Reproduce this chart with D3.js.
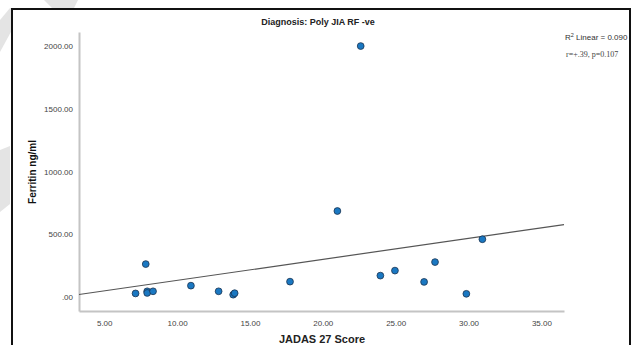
<!DOCTYPE html>
<html>
<head>
<meta charset="utf-8">
<script src="https://cdn.jsdelivr.net/npm/d3@7"></script>
<style>
  body { margin: 0; background: #fff; }
  svg { display: block; font-family: "Liberation Sans", Arial, sans-serif; }
</style>
</head>
<body>
<div id="chart"></div>
<script>
// JADAS 27 score vs ferritin
const jadas = [7.15, 7.85, 7.95, 7.95, 8.35, 10.95, 12.85, 13.85, 13.95, 17.75, 21.0, 22.6, 23.95, 24.95, 26.95, 27.7, 29.85, 30.95];
const ferritin = [28, 262, 45, 32, 45, 90, 45, 18, 30, 122, 685, 2000, 170, 210, 120, 278, 25, 460];
const xTicks = [5, 10, 15, 20, 25, 30, 35];
const yTicks = [0, 500, 1000, 1500, 2000];

const width = 636, height = 345;
const plot = { left: 79, right: 564, top: 32, bottom: 311 };

const svg = d3.select("#chart").append("svg")
  .attr("width", width)
  .attr("height", height);

// faint watermark shapes behind the frame
const ghost = [
  [[0, 20], [0, 52], [24, 8], [10, 8]],
  [[44, 0], [78, 0], [74, 8], [52, 8]],
  [[0, 150], [10, 146], [10, 204], [0, 212]]
];
svg.selectAll(".ghost").data(ghost).enter().append("polygon")
  .attr("class", "ghost")
  .attr("points", d => d.map(p => p.join(",")).join(" "))
  .attr("fill", "#e4e4e4");

// frame
svg.append("rect")
  .attr("x", 12).attr("y", 9)
  .attr("width", 618).attr("height", 350)
  .attr("fill", "#fff")
  .attr("stroke", "#111")
  .attr("stroke-width", 2);

const x = d3.scaleLinear().domain([3.27, 36.55]).range([plot.left, plot.right]);
const y = d3.scaleLinear().domain([-112, 2112]).range([plot.bottom, plot.top]);

const fmt = d3.format(".2f");
const yFmt = v => v === 0 ? ".00" : fmt(v);

const xAxis = d3.axisBottom(x).tickValues(xTicks).tickFormat(fmt).tickSize(0).tickPadding(9);
const yAxis = d3.axisLeft(y).tickValues(yTicks).tickFormat(yFmt).tickSize(0).tickPadding(6);

const gx = svg.append("g").attr("transform", `translate(0,${plot.bottom})`).call(xAxis);
const gy = svg.append("g").attr("transform", `translate(${plot.left},0)`).call(yAxis);

[gx, gy].forEach(g => {
  g.select(".domain").attr("stroke", "#c4c4c4").attr("stroke-width", 2);
  g.selectAll("text")
    .attr("fill", "#444")
    .style("font-size", "8px")
    .style("font-family", "'Liberation Sans', Arial, sans-serif");
});

// least squares fit line
const mx = d3.mean(jadas), my = d3.mean(ferritin);
const sxy = d3.sum(jadas, (v, i) => (v - mx) * (ferritin[i] - my));
const sxx = d3.sum(jadas, v => (v - mx) * (v - mx));
const slope = sxy / sxx;
const intercept = my - slope * mx;
const [x0, x1] = x.domain();

svg.append("line")
  .attr("x1", x(x0)).attr("y1", y(intercept + slope * x0))
  .attr("x2", x(x1)).attr("y2", y(intercept + slope * x1))
  .attr("stroke", "#555")
  .attr("stroke-width", 1.2);

svg.selectAll(".dot")
  .data(jadas)
  .enter()
  .append("circle")
  .attr("class", "dot")
  .attr("cx", d => x(d))
  .attr("cy", (d, i) => y(ferritin[i]))
  .attr("r", 3.4)
  .attr("fill", "#1a78c2")
  .attr("stroke", "#1c3350")
  .attr("stroke-width", 0.8);

// titles
svg.append("text")
  .attr("x", 318).attr("y", 25)
  .attr("text-anchor", "middle")
  .style("font-size", "9px")
  .style("font-weight", "bold")
  .attr("fill", "#222")
  .text("Diagnosis: Poly JIA RF -ve");

svg.append("text")
  .attr("transform", "translate(36,172) rotate(-90)")
  .attr("text-anchor", "middle")
  .style("font-size", "10px")
  .style("font-weight", "bold")
  .attr("fill", "#111")
  .text("Ferritin ng/ml");

svg.append("text")
  .attr("x", 322).attr("y", 343)
  .attr("text-anchor", "middle")
  .style("font-size", "11px")
  .style("font-weight", "bold")
  .attr("fill", "#222")
  .text("JADAS 27 Score");

const r2 = svg.append("text")
  .attr("x", 565).attr("y", 40)
  .style("font-size", "8px")
  .attr("fill", "#333");
r2.append("tspan").text("R");
r2.append("tspan").attr("dy", -3).style("font-size", "5.5px").text("2");
r2.append("tspan").attr("dy", 3).text(" Linear = 0.090");

svg.append("text")
  .attr("x", 566).attr("y", 57)
  .style("font-size", "8px")
  .style("font-family", "'Liberation Serif', 'Times New Roman', serif")
  .attr("fill", "#444")
  .text("r=+.39, p=0.107");
</script>
</body>
</html>
